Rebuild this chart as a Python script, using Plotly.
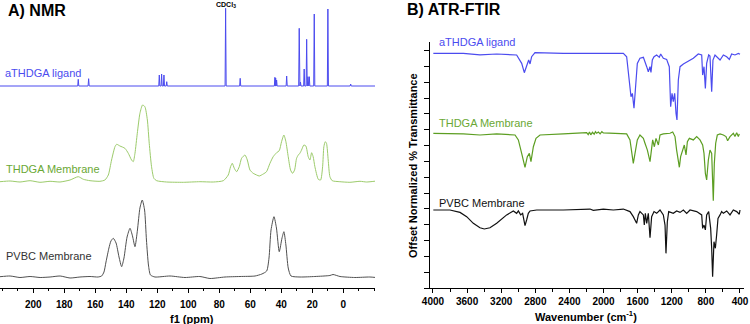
import plotly.graph_objects as go

# ---------------- NMR data (ppm, intensity a.u., traces stacked) ----------------
# aTHDGA ligand: stick peaks (ppm, height above its baseline)
nmr_lig_base = 202.0
nmr_lig_ppm = [171.0, 164.3, 118.7, 117.2, 115.7, 113.9, 75.9, 66.5, 44.1, 43.6, 43.0,
               36.5, 28.4, 27.6, 25.2, 23.6, 22.8, 21.9, 18.7, 9.9, -4.8]
nmr_lig_h = [6.7, 7.3, 11.0, 12.0, 11.0, 4.3, 77.7, 7.7, 8.7, 8.0, 6.0,
             10.0, 57.7, 4.0, 17.0, 46.7, 9.3, 9.3, 72.0, 77.0, 2.0]

nmr_thdga_ppm = [221.5, 215.0, 208.6, 202.1, 195.7, 189.2, 182.8, 176.3, 171.0, 167.7, 163.4,
                 157.0, 153.8, 151.6, 149.5, 147.3, 146.2, 144.1, 140.9, 138.7, 136.6, 135.5,
                 134.4, 132.9, 131.2, 129.5, 128.0, 126.4, 125.2, 123.7, 122.2, 120.4, 114.0,
                 103.2, 92.5, 83.9, 77.4, 74.2, 72.7, 71.6, 70.3, 68.8, 67.1, 65.6, 63.4, 61.9,
                 60.2, 58.1, 55.9, 54.2, 51.6, 49.5, 47.3, 45.2, 43.0, 41.3, 39.8, 38.3, 37.0,
                 35.5, 34.0, 32.7, 31.4, 30.1, 29.0, 28.0, 26.9, 25.4, 24.1, 22.6, 21.5, 20.4,
                 19.4, 18.3, 16.1, 14.6, 13.3, 12.5, 11.6, 10.8, 9.7, 8.6, 7.1, 2.2, -4.3,
                 -10.8, -15.1, -21.5]
nmr_thdga_int = [106.3, 107.0, 106.0, 107.3, 105.7, 106.7, 106.0, 108.0, 111.3, 108.7, 107.3,
                 106.7, 108.0, 113.0, 128.0, 141.3, 143.7, 142.0, 139.7, 134.7, 128.0, 126.3,
                 134.7, 154.7, 174.7, 183.0, 181.3, 168.0, 144.7, 121.3, 109.7, 107.3, 106.0,
                 105.7, 106.3, 106.0, 107.3, 113.0, 121.3, 124.7, 119.7, 116.3, 121.3, 129.7,
                 133.0, 128.0, 118.0, 114.7, 113.0, 112.0, 114.0, 116.3, 124.7, 131.3, 135.3,
                 137.3, 146.3, 153.0, 146.3, 131.3, 118.0, 114.7, 118.0, 129.7, 133.0, 134.7,
                 138.0, 143.0, 142.0, 131.3, 128.0, 135.3, 131.3, 121.3, 108.7, 108.0, 121.3,
                 141.3, 146.3, 144.7, 128.0, 111.3, 107.3, 106.3, 105.7, 106.7, 106.0, 107.0]

nmr_pvbc_ppm = [221.5, 215.0, 208.6, 202.1, 195.6, 189.2, 182.7, 176.3, 169.9, 163.4, 158.3,
                155.9, 154.4, 153.1, 151.2, 149.9, 148.4, 146.6, 144.7, 143.0, 141.5, 139.5,
                137.6, 136.0, 134.4, 132.8, 131.2, 129.7, 128.2, 127.0, 125.7, 124.4, 121.5,
                111.8, 102.1, 92.5, 86.0, 76.3, 66.6, 56.9, 52.5, 49.4, 47.9, 46.6, 44.7, 43.1,
                41.3, 39.5, 38.3, 37.0, 35.5, 33.7, 27.9, 18.3, 8.6, 6.6, 2.1, -7.5, -17.2, -21.1]
nmr_pvbc_int = [11.3, 12.0, 10.5, 11.5, 10.5, 11.0, 12.0, 10.0, 11.0, 11.5, 11.0,
                12.0, 16.0, 26.0, 40.0, 47.0, 49.7, 45.0, 31.0, 21.3, 30.0, 51.0,
                59.7, 52.0, 41.3, 58.0, 80.0, 88.0, 78.0, 48.0, 23.0, 13.0, 11.0,
                12.0, 10.5, 11.5, 9.5, 11.0, 11.5, 12.0, 14.0, 17.0, 30.0, 58.0, 71.3, 60.0,
                36.3, 50.0, 56.3, 43.0, 20.0, 12.0, 11.0, 11.5, 12.5, 13.5, 11.5, 10.5, 11.0, 10.5]

nmr_ticks = [200, 180, 160, 140, 120, 100, 80, 60, 40, 20, 0]

# ---------------- FTIR data (wavenumber, offset normalized transmittance) ----------------
ir_lig_wn = [3996, 3644, 3449, 3253, 3019, 2960, 2929, 2902, 2878, 2862, 2843, 2804, 2472, 2081,
             1768, 1729, 1698, 1678, 1662, 1643, 1627, 1604, 1573, 1533, 1494, 1475, 1455, 1444,
             1428, 1408, 1377, 1346, 1330, 1299, 1260, 1229, 1213, 1197, 1182, 1166, 1150, 1139,
             1123, 1103, 1064, 947, 889, 849, 838, 822, 806, 791, 767, 752, 732, 717, 693, 634,
             595, 556, 525, 498, 459, 419, 400]
ir_lig_t = [14.83, 14.83, 14.73, 14.79, 14.73, 14.20, 13.61, 14.10, 14.41, 14.16, 14.62, 14.88,
            14.83, 14.83, 14.83, 14.62, 13.15, 12.09, 12.30, 11.36, 12.52, 14.20, 14.52, 14.58,
            13.99, 13.67, 13.99, 13.63, 14.41, 14.62, 14.73, 14.58, 14.79, 14.52, 14.45, 13.99,
            11.46, 12.30, 11.78, 12.30, 11.04, 10.62, 13.15, 13.99, 14.16, 14.52, 14.79, 14.73,
            13.46, 13.99, 12.62, 14.20, 14.73, 14.66, 12.41, 14.41, 14.73, 14.41, 14.73, 14.62,
            14.45, 14.79, 14.73, 14.83, 14.77]

ir_thdga_wn = [3996, 3644, 3449, 3253, 3038, 2999, 2960, 2921, 2894, 2870, 2851, 2823, 2792, 2745,
               2472, 2315, 2198, 2180, 2165, 2150, 2130, 2110, 2095, 2081, 2060, 2040, 2020, 2002,
               1924, 1729, 1690, 1670, 1651, 1631, 1604, 1573, 1533, 1514, 1486, 1455, 1440, 1424,
               1404, 1385, 1357, 1338, 1299, 1221, 1189, 1162, 1143, 1127, 1111, 1096, 1072, 1053,
               1033, 1017, 994, 947, 908, 869, 838, 822, 806, 791, 771, 752, 732, 713, 701, 685,
               666, 634, 595, 564, 545, 517, 478, 459, 439, 419, 408]
ir_thdga_t = [9.78, 9.74, 9.67, 9.74, 9.67, 9.36, 8.51, 7.63, 8.30, 8.51, 7.99, 8.93, 9.46, 9.67,
              9.74, 9.78, 9.82, 9.70, 9.86, 9.68, 9.84, 9.72, 9.88, 9.78, 9.86, 9.74, 9.88, 9.80,
              9.78, 9.74, 9.36, 8.51, 7.88, 8.51, 9.36, 9.67, 9.46, 9.15, 8.72, 7.99, 8.72, 9.36,
              8.93, 9.46, 9.04, 9.67, 9.74, 9.78, 9.86, 9.57, 8.72, 7.99, 7.63, 8.30, 8.72, 9.04,
              8.41, 9.25, 9.46, 9.36, 9.57, 9.36, 9.04, 8.51, 7.25, 6.83, 8.09, 8.72, 8.51, 5.52,
              7.88, 9.15, 9.67, 9.74, 9.67, 9.57, 9.31, 9.57, 9.78, 9.57, 9.82, 9.57, 9.74]

ir_pvbc_wn = [3996, 3801, 3683, 3605, 3527, 3449, 3398, 3332, 3253, 3136, 3058, 3019, 2999, 2972,
              2949, 2921, 2902, 2882, 2862, 2784, 2472, 2198, 2159, 2120, 2002, 1885, 1768, 1690,
              1651, 1612, 1592, 1573, 1533, 1522, 1510, 1494, 1475, 1455, 1436, 1408, 1377, 1338,
              1299, 1279, 1268, 1252, 1236, 1182, 1143, 1103, 1064, 1025, 986, 908, 849, 838, 822,
              806, 791, 767, 744, 732, 721, 705, 689, 674, 658, 634, 615, 595, 556, 517, 478, 439,
              408, 400]
ir_pvbc_t = [4.93, 4.93, 4.78, 4.51, 4.09, 3.81, 3.73, 3.81, 4.09, 4.62, 4.87, 4.72, 4.87, 4.62,
             4.72, 3.94, 4.30, 4.72, 4.87, 4.93, 4.93, 4.95, 4.99, 4.91, 4.99, 4.93, 4.99, 4.83,
             4.51, 4.09, 4.62, 4.83, 4.62, 3.98, 4.72, 4.09, 4.72, 3.18, 4.51, 4.83, 4.72, 4.93,
             4.62, 3.98, 2.19, 4.19, 4.83, 4.72, 4.87, 4.78, 4.93, 4.72, 4.93, 4.83, 4.62, 3.77,
             3.98, 3.67, 4.62, 4.83, 3.77, 2.51, 0.72, 2.93, 2.51, 3.35, 4.40, 4.62, 4.83, 4.72,
             4.87, 4.62, 4.93, 4.83, 4.66, 4.93]

ir_ticks = [4000, 3600, 3200, 2800, 2400, 2000, 1600, 1200, 800, 400]

# ---------------- build stick spectrum for the ligand ----------------
stick_x = [221.5]
stick_y = [nmr_lig_base]
for p, h in sorted(zip(nmr_lig_ppm, nmr_lig_h), key=lambda t: -t[0]):
    stick_x += [p + 0.35, p, p - 0.35]
    stick_y += [nmr_lig_base, nmr_lig_base + h, nmr_lig_base]
stick_x.append(-21.0)
stick_y.append(nmr_lig_base)

BLUE = "#4b4bef"
GREEN_NMR = "#9ccb6b"
GREEN_TXT = "#6aa834"
GREEN_IR = "#5c9e22"
GRAY_NMR = "#505050"
FONT = "Arial, Liberation Sans, sans-serif"

fig = go.Figure()
fig.add_trace(go.Scatter(x=stick_x, y=stick_y, mode="lines",
                         line=dict(color=BLUE, width=1), xaxis="x", yaxis="y"))
fig.add_trace(go.Scatter(x=nmr_thdga_ppm, y=nmr_thdga_int, mode="lines",
                         line=dict(color=GREEN_NMR, width=1, shape="spline", smoothing=0.6),
                         xaxis="x", yaxis="y"))
fig.add_trace(go.Scatter(x=nmr_pvbc_ppm, y=nmr_pvbc_int, mode="lines",
                         line=dict(color=GRAY_NMR, width=1, shape="spline", smoothing=0.6),
                         xaxis="x", yaxis="y"))
fig.add_trace(go.Scatter(x=ir_lig_wn, y=ir_lig_t, mode="lines",
                         line=dict(color=BLUE, width=1.2), xaxis="x2", yaxis="y2"))
fig.add_trace(go.Scatter(x=ir_thdga_wn, y=ir_thdga_t, mode="lines",
                         line=dict(color=GREEN_IR, width=1.2), xaxis="x2", yaxis="y2"))
fig.add_trace(go.Scatter(x=ir_pvbc_wn, y=ir_pvbc_t, mode="lines",
                         line=dict(color="#111111", width=1.2), xaxis="x2", yaxis="y2"))

W, H = 744.0, 288.0


def px(xp):
    return xp / W


def py(yp):
    return (H - yp) / H


ann = []


def add(text, x, y, size, color="black", bold=False, xanchor="left", angle=0):
    if bold:
        text = "<b>" + text + "</b>"
    ann.append(dict(text=text, x=x, y=y, xref="paper", yref="paper", showarrow=False,
                    xanchor=xanchor, yanchor="middle", textangle=angle,
                    font=dict(family=FONT, size=size, color=color)))


add("A) NMR", px(6), py(11), 16, bold=True)
add("B) ATR-FTIR", px(405), py(9), 16, bold=True)
add("aTHDGA ligand", px(3), py(73), 11, BLUE)
add("THDGA Membrane", px(4), py(169), 11, GREEN_TXT)
add("PVBC Membrane", px(4), py(255.5), 11, "#333333")
add("aTHDGA ligand", px(437), py(42), 11, BLUE)
add("THDGA Membrane", px(437), py(122.5), 11, GREEN_TXT)
add("PVBC Membrane", px(437), py(202.5), 11, "#111111")
add("f1 (ppm)", px(192), py(318.5), 11, bold=True, xanchor="center")
add("Wavenumber (cm<sup>-1</sup>)", px(586), py(316), 11, bold=True, xanchor="center")
add("Offset Normalized % Transmittance", px(413), py(165), 11, bold=True,
    xanchor="center", angle=-90)
ann.append(dict(text="<b>CDCl<sub>3</sub></b>", x=75.9, y=283, xref="x", yref="y",
                showarrow=False, xanchor="center", yanchor="middle",
                font=dict(family=FONT, size=7, color="black")))

axis_common = dict(showgrid=False, zeroline=False, showline=True, linecolor="black",
                   linewidth=1, ticks="outside", ticklen=4, tickcolor="black",
                   automargin=False,
                   tickfont=dict(family=FONT, size=10, color="black"))

fig.update_layout(
    width=750, height=324,
    margin=dict(l=0, r=6, t=0, b=36, autoexpand=False),
    paper_bgcolor="white", plot_bgcolor="white",
    showlegend=False,
    annotations=ann,
    xaxis=dict(domain=[0, 375 / W], range=[221.5, -20.5], tickvals=nmr_ticks,
               ticktext=["<b>%d</b>" % t for t in nmr_ticks], ticklabelstandoff=3,
               minor=dict(dtick=10, ticks="outside", ticklen=2, tickcolor="black"),
               anchor="y", **axis_common),
    yaxis=dict(domain=[0, 1], range=[0, 288], visible=False, anchor="x", automargin=False),
    xaxis2=dict(domain=[430 / W, 1], range=[4035, 353], tickvals=ir_ticks,
                ticktext=["<b>%d</b>" % t for t in ir_ticks], ticklabelstandoff=0,
                minor=dict(dtick=200, ticks="outside", ticklen=3, tickcolor="black"),
                anchor="y2", **axis_common),
    yaxis2=dict(domain=[0, (H - 42) / H], range=[0, 15.55], dtick=1, tick0=0,
                showticklabels=False, anchor="x2", showgrid=False, zeroline=False,
                showline=True, linecolor="black", linewidth=1, ticks="outside",
                ticklen=5, tickcolor="black", automargin=False),
)

fig.write_html("out.html")
